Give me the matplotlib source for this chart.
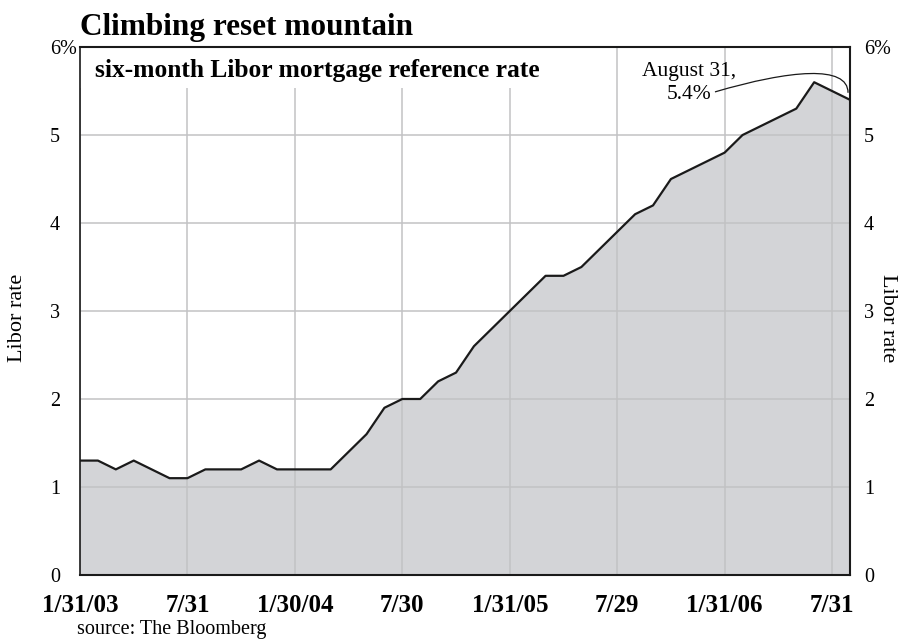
import matplotlib
matplotlib.use("Agg")
import matplotlib.pyplot as plt
from matplotlib.patches import Rectangle, PathPatch
from matplotlib.path import Path
import numpy as np

# six-month Libor, monthly, Jan 2003 .. Aug 2006
libor_2003 = [1.3, 1.3, 1.2, 1.3, 1.2, 1.1, 1.1, 1.2, 1.2, 1.2, 1.3, 1.2]
libor_2004 = [1.2, 1.2, 1.2, 1.4, 1.6, 1.9, 2.0, 2.0, 2.2, 2.3, 2.6, 2.8]
libor_2005 = [3.0, 3.2, 3.4, 3.4, 3.5, 3.7, 3.9, 4.1, 4.2, 4.5, 4.6, 4.7]
libor_2006 = [4.8, 5.0, 5.1, 5.2, 5.3, 5.6, 5.5, 5.4]

rates = libor_2003 + libor_2004 + libor_2005 + libor_2006
months = np.arange(len(rates))

tick_months = [0, 6, 12, 18, 24, 30, 36, 42]
tick_labels = ["1/31/03", "7/31", "1/30/04", "7/30", "1/31/05", "7/29", "1/31/06", "7/31"]
y_ticks = [0, 1, 2, 3, 4, 5, 6]
y_labels = ["0", "1", "2", "3", "4", "5", "6%"]

plt.rcParams["font.family"] = ["Liberation Serif", "DejaVu Serif"]

fig = plt.figure(figsize=(9.03, 6.39), dpi=100)
ax = fig.add_axes([0.0886, 0.1002, 0.8527, 0.8262])

ax.fill_between(months, rates, 0, color="#d3d4d7", linewidth=0, zorder=1)
ax.plot(months, rates, color="#1a1a1a", linewidth=1.6, zorder=3)

ax.set_xlim(0, len(rates) - 1)
ax.set_ylim(0, 6)
ax.set_xticks(tick_months)
ax.set_xticklabels(tick_labels, fontsize=18, fontweight="bold")
ax.set_yticks(y_ticks)
ax.set_yticklabels(y_labels, fontsize=14.5)

ax.set_axisbelow("line")
ax.grid(True, color="#c2c2c4", linewidth=1.1)
ax.tick_params(axis="both", length=0)
ax.tick_params(axis="x", pad=14)
ax.tick_params(axis="y", labelright=True, pad=10)
# left labels sit further out and are left aligned
for tick in ax.yaxis.get_major_ticks():
    tick.label1.set_horizontalalignment("left")
    tick.label1.set_x(-0.039)
    tick.label1.set_transform(ax.get_yaxis_transform())

for side in ["left", "right", "top", "bottom"]:
    ax.spines[side].set_color("#1a1a1a")
    ax.spines[side].set_linewidth(1.5)
ax.spines["left"].set_linewidth(1.2)

# white panel behind the subtitle
ax.add_patch(Rectangle((0, 0.922), 0.62, 0.078, transform=ax.transAxes,
                       facecolor="white", edgecolor="none", zorder=1.8))
ax.text(0.019, 0.955, "six-month Libor mortgage reference rate", transform=ax.transAxes,
        fontsize=18.4, fontweight="bold", ha="left", va="center", zorder=4)

# annotation for the last value
ax.text(34.0, 5.59, "August 31,\n5.4%", fontsize=15.5, ha="center", va="center",
        multialignment="center", linespacing=1.25, zorder=4)
curve = Path([(35.46, 5.49), (39.65, 5.74), (42.89, 5.80), (42.89, 5.48)],
             [Path.MOVETO, Path.CURVE4, Path.CURVE4, Path.CURVE4])
ax.add_patch(PathPatch(curve, facecolor="none", edgecolor="#1a1a1a", linewidth=0.9, zorder=4))

fig.text(80 / 903, 1 - 35 / 639, "Climbing reset mountain", fontsize=22.5, fontweight="bold",
         ha="left", va="baseline")
fig.text(18 / 903, 1 - 318 / 639, "Libor rate", fontsize=16, rotation=90, ha="center", va="center")
fig.text(888 / 903, 1 - 318 / 639, "Libor rate", fontsize=16, rotation=270, ha="center", va="center")
fig.text(77 / 903, 1 - 634 / 639, "source: The Bloomberg", fontsize=14.5, ha="left", va="baseline")

fig.savefig("out.png", dpi=100)
